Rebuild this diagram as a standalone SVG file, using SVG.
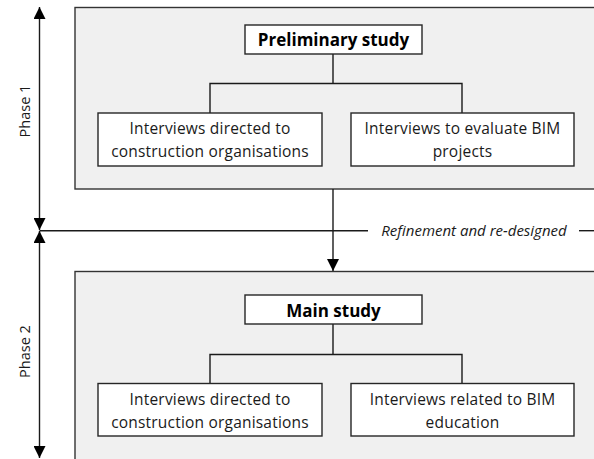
<svg xmlns="http://www.w3.org/2000/svg" width="594" height="459" viewBox="0 0 594 459">
<style>
.panel{fill:#f0f0f0;stroke:#333;stroke-width:1.4}
.box{fill:#fff;stroke:#262626;stroke-width:1.4}
.ln{fill:none;stroke:#1a1a1a;stroke-width:1.4}
.t{font-family:"Open Sans","Liberation Sans",sans-serif;font-size:15.5px;letter-spacing:0.2px;fill:#1a1a1a;text-anchor:middle}
.p{font-family:"Open Sans","Liberation Sans",sans-serif;font-size:14.5px;fill:#1a1a1a;text-anchor:middle}
.b{font-family:"Open Sans","Liberation Sans",sans-serif;font-size:17px;font-weight:bold;fill:#000;text-anchor:middle}
.i{font-family:"Open Sans","Liberation Sans",sans-serif;font-size:15px;font-style:italic;fill:#1a1a1a;text-anchor:middle}
</style>
<defs>
<marker id="ah" viewBox="0 0 12 12" refX="12" refY="6" markerWidth="12" markerHeight="12" markerUnits="userSpaceOnUse" orient="auto-start-reverse">
<path d="M0,0 L12,6 L0,12 Z" fill="#000"/>
</marker>
</defs>
<g id="phase1-panel"><rect class="panel" x="75" y="7.5" width="530" height="181.5"/></g>
<g id="phase2-panel"><rect class="panel" x="75" y="271.5" width="530" height="200"/></g>
<g id="connectors">
<line class="ln" x1="39.5" y1="7" x2="39.5" y2="230" marker-start="url(#ah)" marker-end="url(#ah)"/>
<line class="ln" x1="39.5" y1="231" x2="39.5" y2="458" marker-start="url(#ah)" marker-end="url(#ah)"/>
<line class="ln" x1="39.5" y1="230.7" x2="368" y2="230.7"/>
<line class="ln" x1="579" y1="230.7" x2="594" y2="230.7"/>
<line class="ln" x1="333" y1="189" x2="333" y2="271" marker-end="url(#ah)"/>
<path class="ln" d="M333,54 V83.5 M210,113 V83.5 H462 V113"/>
<path class="ln" d="M333,324 V354.5 M210,383.5 V354.5 H462 V383.5"/>
</g>
<g id="phase1-label"><text class="p" transform="translate(30,111) rotate(-90)">Phase 1</text></g>
<g id="phase2-label"><text class="p" transform="translate(30,351.5) rotate(-90)">Phase 2</text></g>
<g id="refinement-label"><text class="i" x="474" y="235.5">Refinement and re-designed</text></g>
<g id="preliminary-study"><rect class="box" x="245" y="25" width="177" height="29"/><text class="b" x="333.5" y="46">Preliminary study</text></g>
<g id="p1-construction"><rect class="box" x="98" y="113" width="224" height="53"/><text class="t" x="210" y="134">Interviews directed to</text><text class="t" x="210" y="157">construction organisations</text></g>
<g id="p1-bim-projects"><rect class="box" x="351" y="113" width="223" height="53"/><text class="t" x="462.5" y="134">Interviews to evaluate BIM</text><text class="t" x="462.5" y="157">projects</text></g>
<g id="main-study"><rect class="box" x="245" y="295" width="177" height="29"/><text class="b" x="333.5" y="316.5">Main study</text></g>
<g id="p2-construction"><rect class="box" x="98" y="383.5" width="224" height="52.5"/><text class="t" x="210" y="405">Interviews directed to</text><text class="t" x="210" y="427.5">construction organisations</text></g>
<g id="p2-bim-education"><rect class="box" x="351" y="383.5" width="223" height="52.5"/><text class="t" x="462.5" y="405">Interviews related to BIM</text><text class="t" x="462.5" y="427.5">education</text></g>
</svg>
